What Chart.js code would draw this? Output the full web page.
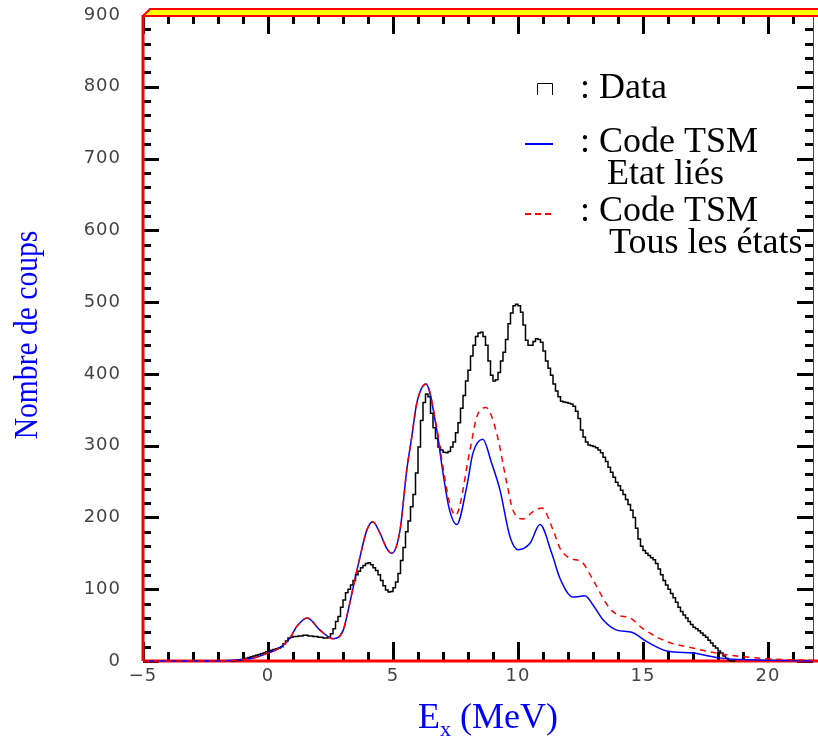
<!DOCTYPE html>
<html lang="fr">
<head>
  <meta charset="UTF-8" />
  <title>Nombre de coups vs Ex</title>
  <script src="https://cdn.jsdelivr.net/npm/chart.js"></script>
  <style>
    html, body { margin: 0; padding: 0; background: #fff; }
    #wrap { width: 818px; height: 737px; }
  </style>
</head>
<body>
  <div id="wrap"><canvas id="chart" width="818" height="737"></canvas></div>

  <script>
    // histogram (Data): 0.1 MeV bins starting at -1.5 MeV
    const histStart = -1.5;
    const histWidth = 0.1;
    const histCounts = [
      0, 0, 0, 1, 1,
      2, 3, 4, 5, 6, 7, 8, 9, 10, 11,
      13, 14, 15, 16, 17, 18, 20, 24, 28, 32,
      33, 34, 34, 35, 35, 36, 36, 35, 35, 34,
      34, 33, 33, 32, 32, 33, 38, 45, 55, 62,
      75, 85, 95, 100, 106, 112, 120, 125, 130, 133,
      136, 137, 134, 130, 126, 120, 112, 105, 99, 96,
      97, 102, 110, 122, 140, 158, 180, 195, 215, 232,
      262, 298, 335, 360, 372, 368, 345, 325, 310, 298,
      294, 291, 290, 292, 298, 305, 318, 332, 352, 370,
      390, 405, 425, 440, 452, 457, 458, 452, 440, 418,
      398, 390, 392, 402, 418, 430, 448, 470, 485, 495,
      497, 495, 486, 468, 447, 440, 440, 445, 449, 448,
      444, 432, 418, 408, 398, 386, 376, 368, 362, 361,
      360, 359, 358, 355, 348, 338, 322, 312, 305, 301,
      300, 299, 297, 294, 290, 284, 278, 270, 263, 256,
      249, 244, 238, 232, 225, 218, 210, 200, 185, 170,
      160, 154, 150, 147, 144, 141, 136, 128, 120, 112,
      106, 100, 94, 88, 82, 75, 69, 64, 60, 55,
      51, 47, 45, 42, 39, 36, 33, 29, 25, 21,
      18, 14, 11, 7, 4, 1, 0
    ];

    // Code TSM - Etat liés (blue)
    const boundE = [-5, -2, -1, -0.5, 0, 0.5, 0.88, 1.15, 1.57, 2.08, 2.61, 3.01, 3.21, 3.41, 3.68, 3.95, 4.19,
      4.48, 4.75, 4.95, 5.28, 5.55, 5.75, 5.95, 6.32, 6.75, 7.0, 7.25, 7.55, 7.95, 8.2, 8.59, 8.95, 9.28, 9.68,
      10.0, 10.48, 10.88, 11.35, 11.68, 12.2, 12.68, 13.0, 13.41, 13.95, 14.55, 15.15, 15.95, 17.0, 18.1, 19, 20, 21.8];
    const boundN = [0, 0, 2, 5, 11, 19, 32, 48, 60, 43, 31, 43, 71, 103, 145, 182, 194,
      178, 157, 150, 182, 266, 312, 359, 386, 322, 262, 212, 190, 243, 290, 309, 275, 238, 173,
      155, 164, 190, 150, 115, 89, 91, 78, 57, 43, 40, 27, 14, 11, 4, 2, 1, 0];

    // Code TSM - Tous les états (red dashed)
    const allE = [-5, -2, -1, -0.5, 0, 0.5, 0.88, 1.15, 1.57, 2.08, 2.61, 3.01, 3.21, 3.41, 3.68, 3.95, 4.19,
      4.48, 4.75, 4.95, 5.28, 5.55, 5.75, 5.95, 6.32, 6.75, 7.0, 7.25, 7.5, 8.08, 8.35, 8.72, 9.15, 9.55, 9.8,
      10.2, 10.6, 10.95, 11.41, 11.68, 12.08, 12.55, 13.0, 13.61, 14.0, 14.48, 15.0, 15.95, 17.0, 18.1, 19.0, 20, 21.8];
    const allN = [0, 0, 2, 5, 11, 19, 32, 48, 60, 43, 31, 43, 71, 103, 145, 182, 194,
      178, 157, 150, 182, 266, 312, 359, 386, 325, 270, 222, 203, 294, 340, 353, 317, 248, 210,
      198, 208, 213, 182, 157, 143, 138, 113, 76, 64, 60, 45, 27, 18, 10, 6, 3, 1];

    const xTicks = [-5, 0, 5, 10, 15, 20];
    const xTickLabels = ['\u22125', '0', '5', '10', '15', '20'];
    const yTicks = [0, 100, 200, 300, 400, 500, 600, 700, 800, 900];
    const yTickLabels = ['0', '100', '200', '300', '400', '500', '600', '700', '800', '900'];

    const histPoints = histCounts.map((c, i) => ({ x: histStart + i * histWidth, y: c }));
    histPoints.push({ x: histStart + histCounts.length * histWidth, y: 0 });

    const framePlugin = {
      id: 'frame',
      beforeDatasetsDraw(chart) {
        const { ctx, chartArea: a, scales: { x, y } } = chart;
        ctx.save();
        // ticks (all four sides, pointing inward)
        ctx.strokeStyle = '#000';
        ctx.lineWidth = 3;
        ctx.beginPath();
        for (let v = -5; v <= 21; v += 1) {
          const px = Math.round(x.getPixelForValue(v)) + 0.5;
          const len = v % 5 === 0 ? 19 : 9;
          ctx.moveTo(px, a.bottom); ctx.lineTo(px, a.bottom - len);
          ctx.moveTo(px, a.top); ctx.lineTo(px, a.top + len);
        }
        for (let v = 0; v <= 900; v += 20) {
          const py = Math.round(y.getPixelForValue(v)) + 0.5;
          const len = v % 100 === 0 ? 16 : 8;
          ctx.moveTo(a.left, py); ctx.lineTo(a.left + len, py);
          ctx.moveTo(a.right, py); ctx.lineTo(a.right - len, py);
        }
        ctx.stroke();

        // red frame lines
        ctx.strokeStyle = '#ff0000';
        ctx.lineWidth = 3;
        ctx.beginPath();
        ctx.moveTo(a.left, a.top); ctx.lineTo(a.left, a.bottom);
        ctx.moveTo(a.left, a.bottom); ctx.lineTo(818, a.bottom);
        ctx.stroke();
        ctx.lineWidth = 1;
        ctx.beginPath();
        ctx.moveTo(a.right + 0.5, a.top); ctx.lineTo(a.right + 0.5, a.bottom);
        ctx.stroke();

        // yellow band on top
        ctx.fillStyle = '#ffff00';
        ctx.beginPath();
        ctx.moveTo(a.left, a.top + 1);
        ctx.lineTo(a.left + 7, a.top - 6);
        ctx.lineTo(818, a.top - 6);
        ctx.lineTo(818, a.top + 1);
        ctx.closePath();
        ctx.fill();
        ctx.strokeStyle = '#ff0000';
        ctx.lineWidth = 2;
        ctx.beginPath();
        ctx.moveTo(a.left, a.top + 1);
        ctx.lineTo(a.left + 7, a.top - 6);
        ctx.lineTo(818, a.top - 6);
        ctx.moveTo(a.left, a.top + 1);
        ctx.lineTo(818, a.top + 1);
        ctx.stroke();

        // tick labels
        ctx.fillStyle = '#444';
        ctx.font = '18px "DejaVu Sans"';
        ctx.letterSpacing = '1px';
        ctx.textAlign = 'right';
        ctx.textBaseline = 'middle';
        yTicks.forEach((v, i) => ctx.fillText(yTickLabels[i], 121, y.getPixelForValue(v)));
        ctx.textAlign = 'center';
        ctx.textBaseline = 'top';
        xTicks.forEach((v, i) => ctx.fillText(xTickLabels[i], x.getPixelForValue(v), 667));
        ctx.letterSpacing = '0px';

        // axis titles
        ctx.fillStyle = '#0000ff';
        ctx.textAlign = 'left';
        ctx.textBaseline = 'alphabetic';
        const t1 = 'E', t2 = ' (MeV)';
        ctx.font = '36px "Liberation Serif"';
        const w1 = ctx.measureText(t1).width;
        const w2 = ctx.measureText(t2).width;
        ctx.font = '22px "Liberation Serif"';
        const wx = ctx.measureText('x').width;
        const total = w1 + wx + w2;
        const sx = 488 - total / 2;
        ctx.font = '36px "Liberation Serif"';
        ctx.fillText(t1, sx, 728);
        ctx.font = '22px "Liberation Serif"';
        ctx.fillText('x', sx + w1, 736);
        ctx.font = '36px "Liberation Serif"';
        ctx.fillText(t2, sx + w1 + wx, 728);

        ctx.save();
        ctx.translate(28, 335);
        ctx.rotate(-Math.PI / 2);
        ctx.scale(0.87, 1);
        ctx.font = '34px "Liberation Serif"';
        ctx.textAlign = 'center';
        ctx.textBaseline = 'middle';
        ctx.fillText('Nombre de coups', 0, 0);
        ctx.restore();

        // legend
        ctx.fillStyle = '#000';
        ctx.font = '36px "Liberation Serif"';
        ctx.textAlign = 'left';
        ctx.textBaseline = 'alphabetic';
        ctx.fillText(': Data', 580, 98);
        ctx.fillText(': Code TSM', 580, 152);
        ctx.fillText('Etat liés', 607, 184);
        ctx.fillText(': Code TSM', 580, 221);
        ctx.fillText('Tous les états', 609, 253);

        ctx.strokeStyle = '#000';
        ctx.lineWidth = 1;
        ctx.beginPath();
        ctx.moveTo(537.5, 95); ctx.lineTo(537.5, 83.5); ctx.lineTo(552.5, 83.5); ctx.lineTo(552.5, 95);
        ctx.stroke();

        ctx.strokeStyle = '#0000ff';
        ctx.lineWidth = 2;
        ctx.beginPath();
        ctx.moveTo(525, 144); ctx.lineTo(553, 144);
        ctx.stroke();

        ctx.strokeStyle = '#ff0000';
        ctx.setLineDash([6, 4]);
        ctx.beginPath();
        ctx.moveTo(525, 214); ctx.lineTo(555, 214);
        ctx.stroke();
        ctx.restore();
      }
    };

    new Chart(document.getElementById('chart').getContext('2d'), {
      type: 'line',
      data: {
        datasets: [
          {
            label: 'Tous les états',
            data: allE.map((e, i) => ({ x: e, y: allN[i] })),
            borderColor: '#ff0000',
            borderWidth: 1.5,
            borderDash: [6, 5],
            cubicInterpolationMode: 'monotone',
            pointRadius: 0,
            fill: false,
            order: 0
          },
          {
            label: 'Etat liés',
            data: boundE.map((e, i) => ({ x: e, y: boundN[i] })),
            borderColor: '#0000ff',
            borderWidth: 1.5,
            cubicInterpolationMode: 'monotone',
            pointRadius: 0,
            fill: false,
            order: 1
          },
          {
            label: 'Data',
            data: histPoints,
            borderColor: '#000',
            borderWidth: 1.5,
            stepped: 'after',
            pointRadius: 0,
            fill: false,
            order: 2
          }
        ]
      },
      options: {
        responsive: false,
        animation: false,
        clip: false,
        layout: { padding: { left: 143, right: 5, top: 15, bottom: 76 } },
        plugins: { legend: { display: false }, tooltip: { enabled: false } },
        scales: {
          x: { type: 'linear', min: -5, max: 21.8, display: false },
          y: { type: 'linear', min: 0, max: 900, display: false }
        }
      },
      plugins: [framePlugin]
    });
  </script>
</body>
</html>
